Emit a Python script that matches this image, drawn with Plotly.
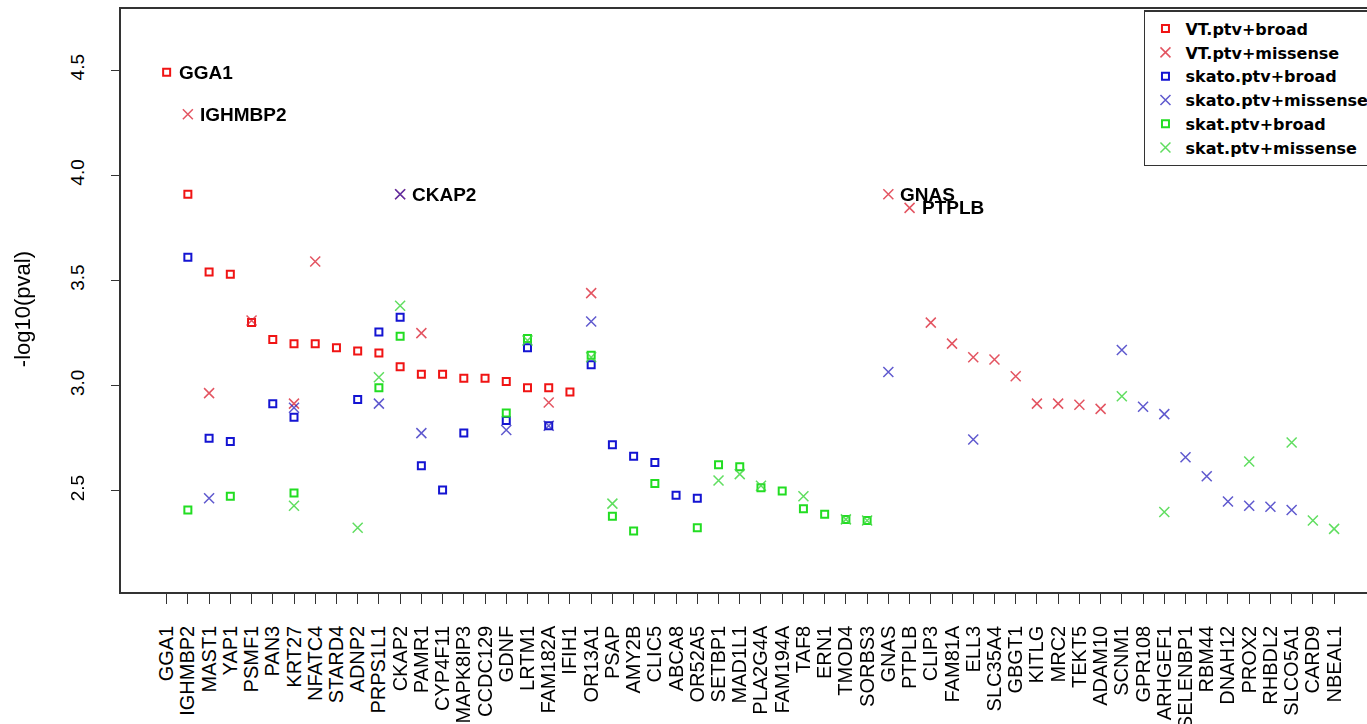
import plotly.graph_objects as go

genes = ["GGA1", "IGHMBP2", "MAST1", "YAP1", "PSMF1", "PAN3", "KRT27", "NFATC4", "STARD4", "ADNP2",
         "PRPS1L1", "CKAP2", "PAMR1", "CYP4F11", "MAPK8IP3", "CCDC129", "GDNF", "LRTM1", "FAM182A", "IFIH1",
         "OR13A1", "PSAP", "AMY2B", "CLIC5", "ABCA8", "OR52A5", "SETBP1", "MAD1L1", "PLA2G4A", "FAM194A",
         "TAF8", "ERN1", "TMOD4", "SORBS3", "GNAS", "PTPLB", "CLIP3", "FAM81A", "ELL3", "SLC35A4",
         "GBGT1", "KITLG", "MRC2", "TEKT5", "ADAM10", "SCNM1", "GPR108", "ARHGEF1", "SELENBP1", "RBM44",
         "DNAH12", "PROX2", "RHBDL2", "SLCO5A1", "CARD9", "NBEAL1"]

# values keyed by gene (-log10 p)
vt_broad = {"GGA1": 4.49, "IGHMBP2": 3.91, "MAST1": 3.54, "YAP1": 3.53, "PSMF1": 3.30, "PAN3": 3.22,
            "KRT27": 3.20, "NFATC4": 3.20, "STARD4": 3.18, "ADNP2": 3.165, "PRPS1L1": 3.155, "CKAP2": 3.09,
            "PAMR1": 3.055, "CYP4F11": 3.055, "MAPK8IP3": 3.035, "CCDC129": 3.035, "GDNF": 3.02,
            "LRTM1": 2.99, "FAM182A": 2.99, "IFIH1": 2.97}
vt_missense = {"IGHMBP2": 4.29, "MAST1": 2.965, "PSMF1": 3.31, "KRT27": 2.915, "NFATC4": 3.59,
               "CKAP2": 3.91, "PAMR1": 3.25, "FAM182A": 2.92, "OR13A1": 3.44, "GNAS": 3.91, "PTPLB": 3.845,
               "CLIP3": 3.30, "FAM81A": 3.20, "ELL3": 3.135, "SLC35A4": 3.125, "GBGT1": 3.045,
               "KITLG": 2.915, "MRC2": 2.915, "TEKT5": 2.91, "ADAM10": 2.89}
skato_broad = {"IGHMBP2": 3.61, "MAST1": 2.75, "YAP1": 2.735, "PAN3": 2.915, "KRT27": 2.85, "ADNP2": 2.935,
               "PRPS1L1": 3.255, "CKAP2": 3.325, "PAMR1": 2.62, "CYP4F11": 2.505, "MAPK8IP3": 2.775,
               "GDNF": 2.835, "LRTM1": 3.18, "FAM182A": 2.81, "OR13A1": 3.10, "PSAP": 2.72, "AMY2B": 2.665,
               "CLIC5": 2.635, "ABCA8": 2.48, "OR52A5": 2.465}
skato_missense = {"MAST1": 2.465, "KRT27": 2.895, "PRPS1L1": 2.915, "CKAP2": 3.91, "PAMR1": 2.775,
                  "GDNF": 2.79, "FAM182A": 2.81, "OR13A1": 3.305, "GNAS": 3.065, "ELL3": 2.745,
                  "SCNM1": 3.17, "GPR108": 2.90, "ARHGEF1": 2.865, "SELENBP1": 2.66, "RBM44": 2.57,
                  "DNAH12": 2.45, "PROX2": 2.43, "RHBDL2": 2.425, "SLCO5A1": 2.41}
skat_broad = {"IGHMBP2": 2.41, "YAP1": 2.475, "KRT27": 2.49, "PRPS1L1": 2.99, "CKAP2": 3.235, "GDNF": 2.87,
              "LRTM1": 3.225, "OR13A1": 3.145, "PSAP": 2.38, "AMY2B": 2.31, "CLIC5": 2.535, "OR52A5": 2.325,
              "SETBP1": 2.625, "MAD1L1": 2.615, "PLA2G4A": 2.515, "FAM194A": 2.50, "TAF8": 2.415,
              "ERN1": 2.39, "TMOD4": 2.365, "SORBS3": 2.36}
skat_missense = {"KRT27": 2.43, "ADNP2": 2.325, "PRPS1L1": 3.04, "CKAP2": 3.38, "LRTM1": 3.215,
                 "OR13A1": 3.135, "PSAP": 2.44, "SETBP1": 2.55, "MAD1L1": 2.58, "PLA2G4A": 2.525,
                 "TAF8": 2.475, "TMOD4": 2.365, "SORBS3": 2.36, "SCNM1": 2.95, "ARHGEF1": 2.40,
                 "PROX2": 2.64, "SLCO5A1": 2.73, "CARD9": 2.36, "NBEAL1": 2.32}

# labelled genes: (gene, series)
labelled = [("GGA1", "vt_broad"), ("IGHMBP2", "vt_missense"), ("CKAP2", "vt_missense"),
            ("GNAS", "vt_missense"), ("PTPLB", "vt_missense")]

series = [
    ("VT.ptv+broad", vt_broad, "square-open", "#F01414", 7, 2.0, 1.0),
    ("VT.ptv+missense", vt_missense, "x-thin-open", "#DC2A3A", 10, 1.5, 0.8),
    ("skato.ptv+broad", skato_broad, "square-open", "#1414D2", 7, 2.0, 1.0),
    ("skato.ptv+missense", skato_missense, "x-thin-open", "#2A22BE", 10, 1.5, 0.75),
    ("skat.ptv+broad", skat_broad, "square-open", "#22DD22", 7, 2.0, 1.0),
    ("skat.ptv+missense", skat_missense, "x-thin-open", "#44D844", 10, 1.5, 0.85),
]
lookup = {"vt_broad": vt_broad, "vt_missense": vt_missense}

idx = {g: i for i, g in enumerate(genes)}
FONT = "Liberation Sans, Arial, sans-serif"

fig = go.Figure()
for name, d, sym, col, size, lw, op in series:
    xs = [idx[g] for g in d]
    ys = list(d.values())
    fig.add_trace(go.Scatter(
        x=xs, y=ys, mode="markers", name=name, opacity=op,
        marker=dict(symbol=sym, size=size, color=col, line=dict(color=col, width=lw)),
        hovertext=list(d.keys()),
    ))

annotations = []
for g, s in labelled:
    annotations.append(dict(x=idx[g], y=lookup[s][g], xref="x", yref="y", text=g, showarrow=False,
                            xanchor="left", yanchor="middle", xshift=10,
                            font=dict(family=FONT, size=19, color="black", weight="bold")))
annotations.append(dict(x=-0.0795, y=0.485, xref="paper", yref="paper", text="-log10(pval)",
                        showarrow=False, textangle=-90, xanchor="center", yanchor="middle",
                        font=dict(family=FONT, size=22, color="black")))

fig.update_layout(
    width=1367, height=724,
    margin=dict(l=121, r=0, t=9, b=132, autoexpand=False),
    paper_bgcolor="white", plot_bgcolor="white",
    showlegend=True,
    legend=dict(x=0.821, y=0.998, xanchor="left", yanchor="top", bgcolor="white",
                bordercolor="#333333", borderwidth=1.5,
                font=dict(family="DejaVu Sans, sans-serif", size=16, color="black", weight="bold"),
                itemwidth=30, tracegroupgap=0),
    annotations=annotations,
    font=dict(family=FONT, color="black"),
)
fig.update_xaxes(
    range=[-2.15, 56.55], tickmode="array", tickvals=list(range(len(genes))), ticktext=genes,
    tickangle=-90, ticks="outside", ticklen=10, tickcolor="#333333", tickwidth=1.2,
    ticklabelstandoff=14,
    showline=True, linecolor="#333333", linewidth=1.5, mirror=True, showgrid=False, zeroline=False,
    tickfont=dict(family=FONT, size=20, color="black"),
)
fig.update_yaxes(
    range=[2.02, 4.79], tickmode="array", tickvals=[2.5, 3.0, 3.5, 4.0, 4.5],
    ticktext=["2.5", "3.0", "3.5", "4.0", "4.5"], tickangle=-90,
    ticks="outside", ticklen=8, tickcolor="#333333", tickwidth=1.2, ticklabelstandoff=20,
    showline=True, linecolor="#333333", linewidth=1.5, mirror=True, showgrid=False, zeroline=False,
    tickfont=dict(family=FONT, size=19, color="black"),
)

fig.write_html("out.html")
